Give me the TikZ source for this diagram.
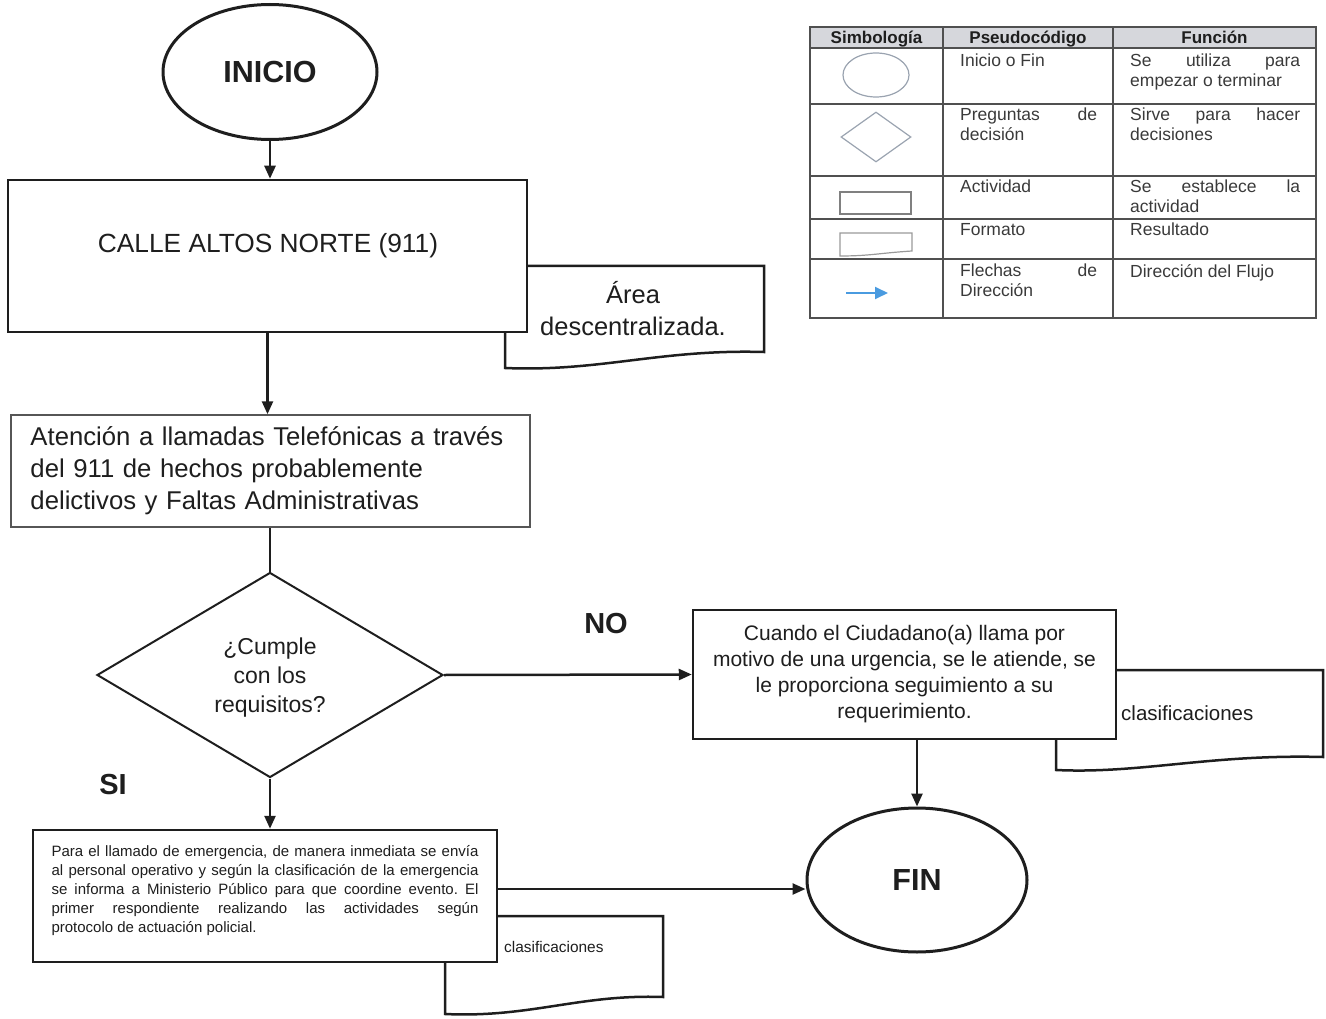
\documentclass[tikz,border=0pt]{standalone}
\usepackage{fontspec}
\setmainfont{Liberation Sans}
\usetikzlibrary{shapes.geometric,arrows.meta,calc}
\frenchspacing
\definecolor{ink}{HTML}{1E1E1E}
\definecolor{legline}{HTML}{505050}
\definecolor{legtext}{HTML}{3A3A3A}
\definecolor{headfill}{HTML}{D6D7DC}
\definecolor{symcol}{HTML}{9AA3B0}
\definecolor{flowblue}{HTML}{4A9BE0}
\tikzset{
 term/.style={ellipse, draw=ink, line width=3pt, fill=white, font=\fontsize{30.5}{36}\selectfont\bfseries, text=ink, inner sep=0pt},
 proc/.style={rectangle, draw=ink, fill=white, line width=2.5pt, inner sep=0pt},
 arr/.style={draw=ink, line width=2.5pt, -{Triangle[length=13pt,width=11pt]}},
 plain/.style={draw=ink, line width=2.5pt},
 docshape/.style={draw=ink, line width=2.5pt, fill=white},
 lbl/.style={font=\fontsize{29}{34}\selectfont\bfseries, text=ink, inner sep=0pt},
 legtxt/.style={font=\fontsize{17.5}{20}\selectfont, text=legtext, anchor=north west, inner sep=0pt, align=justify},
 leghead/.style={font=\fontsize{17}{20}\selectfont\bfseries, text=ink, inner sep=0pt, anchor=base},
 legrule/.style={draw=legline, line width=1.5pt},
}
\begin{document}
\begin{tikzpicture}[x=1pt,y=-1pt]
\useasboundingbox (0,0) rectangle (1326,1019);

% ---------- document shapes (behind boxes) ----------
\draw[docshape] (505,266) -- (764,266) -- (764,352) .. controls (660,349) and (600,372) .. (505,368) -- cycle;
\draw[docshape] (1056,670) -- (1323,670) -- (1323,757) .. controls (1210,754) and (1140,774) .. (1056,770) -- cycle;
\draw[docshape] (445,916) -- (663,916) -- (663,997) .. controls (580,994) and (530,1018) .. (445,1014) -- cycle;

% ---------- flow nodes ----------
\node[term, minimum width=214pt, minimum height=135pt] (inicio) at (270,72) {INICIO};

\node[proc, minimum width=519pt, minimum height=152pt] (calle) at (267.5,256) {};
\node[inner sep=0pt, font=\fontsize{26.3}{30}\selectfont, text=ink] (calletxt) at (268,246) {CALLE ALTOS NORTE (911)};

\node[font=\fontsize{25.5}{32}\selectfont, text=ink, align=center, inner sep=0pt] (areatxt) at (633,309) {Área\\descentralizada.};

\node[rectangle, draw=ink!75, fill=white, line width=1.5pt, inner sep=0pt, minimum width=519pt, minimum height=112pt,
      text width=480pt, align=left, font=\fontsize{25.7}{32}\selectfont, text=ink] (atencion) at (270.5,471)
  {Atención a llamadas Telefónicas a través\\del 911 de hechos probablemente\\delictivos y Faltas Administrativas};

\node[diamond, draw=ink, line width=2pt, fill=white, shape aspect=1.69, minimum width=346pt, minimum height=205pt,
      inner sep=0pt, align=center, font=\fontsize{23}{29}\selectfont, text=ink] (dec) at (270,675) {};
\node[inner sep=0pt, align=center, font=\fontsize{23}{29}\selectfont, text=ink] (dectxt) at (270,678)
  {¿Cumple\\con los\\requisitos?};

\node[proc, minimum width=423pt, minimum height=129pt, align=center, font=\fontsize{21}{26}\selectfont, text=ink] (resp) at (904.5,674.5)
  {Cuando el Ciudadano(a) llama por\\motivo de una urgencia, se le atiende, se\\le proporciona seguimiento a su\\requerimiento.};
\node[anchor=west, inner sep=0pt, font=\fontsize{20.5}{24}\selectfont, text=ink] (clas1) at (1121,713) {clasificaciones};

\node[term, minimum width=220pt, minimum height=144pt] (fin) at (917,880) {FIN};

\node[proc, minimum width=464pt, minimum height=132pt] (proto) at (265,896) {};
\node[inner sep=0pt, text width=427pt, align=justify, font=\fontsize{15}{19}\selectfont, text=ink] (prototxt) at (265,891)
  {Para el llamado de emergencia, de manera inmediata se envía\linebreak
   al personal operativo y según la clasificación de la emergencia\linebreak
   se informa a Ministerio Público para que coordine evento. El\linebreak
   primer respondiente realizando las actividades según\linebreak
   protocolo de actuación policial.};
\node[anchor=west, inner sep=0pt, font=\fontsize{15.4}{19}\selectfont, text=ink] (clas2) at (504,947) {clasificaciones};

% ---------- labels ----------
\node[lbl] (nolbl) at (606,624) {NO};
\node[lbl] (silbl) at (113,785) {SI};

% ---------- connectors ----------
\coordinate (lvl) at (0,889);
\draw[arr] (inicio.south) -- (inicio.south |- calle.north);
\draw[arr] (calle.south) -- (calle.south |- atencion.north);
\draw[plain] (dec.north |- atencion.south) -- (dec.north);
\draw[arr] (dec.east) -- (resp.west);
\draw[arr] (dec.south) -- (dec.south |- proto.north);
\draw[arr] (resp.south -| fin.north) -- (fin.north);
\draw[arr] (proto.east |- lvl) -- (fin.west |- lvl);

% ---------- legend table ----------
\fill[headfill] (810,27) rectangle (1316,48);
\draw[legrule] (810,27) rectangle (1316,318);
\foreach \yy in {48,104,176,219,259} {\draw[legrule] (810,\yy) -- (1316,\yy);}
\foreach \xx in {943,1113} {\draw[legrule] (\xx,27) -- (\xx,318);}
\node[leghead] (h1) at (876.5,44) {Simbología};
\node[leghead] (h2) at (1028,44) {Pseudocódigo};
\node[leghead] (h3) at (1214.5,44) {Función};

\node[ellipse, draw=symcol, line width=1.2pt, minimum width=66pt, minimum height=44pt, inner sep=0pt] (symel) at (876,75) {};
\node[diamond, draw=symcol, line width=1.2pt, minimum width=70pt, minimum height=50pt, inner sep=0pt] (symdi) at (876,137) {};
\node[rectangle, draw=gray, line width=1.2pt, minimum width=71pt, minimum height=22pt, inner sep=0pt] (symre) at (875.5,203) {};
\draw[draw=gray!80, line width=1.2pt] (840,233) -- (912,233) -- (912,251) .. controls (880,253) and (870,256) .. (840,256) -- cycle;
\coordinate (fla) at (846,293);
\coordinate (flb) at (888,293);
\draw[flowblue, line width=1.8pt, -{Triangle[length=13pt,width=12pt]}] (fla) -- (flb);

\node[legtxt] (p1) at (960,54) {Inicio o Fin};
\node[legtxt, text width=137pt] (p2) at (960,108) {Preguntas\hfill de\\decisión};
\node[legtxt] (p3) at (960,180) {Actividad};
\node[legtxt] (p4) at (960,223) {Formato};
\node[legtxt, text width=137pt] (p5) at (960,264) {Flechas\hfill de\\Dirección};

\node[legtxt, text width=170pt] (f1) at (1130,54) {Se\hfill utiliza\hfill para\\empezar o terminar};
\node[legtxt, text width=170pt] (f2) at (1130,108) {Sirve\hfill para\hfill hacer\\decisiones};
\node[legtxt, text width=170pt] (f3) at (1130,180) {Se\hfill establece\hfill la\\actividad};
\node[legtxt] (f4) at (1130,223) {Resultado};
\node[legtxt] (f5) at (1130,264) {Dirección del Flujo};
\end{tikzpicture}
\end{document}
